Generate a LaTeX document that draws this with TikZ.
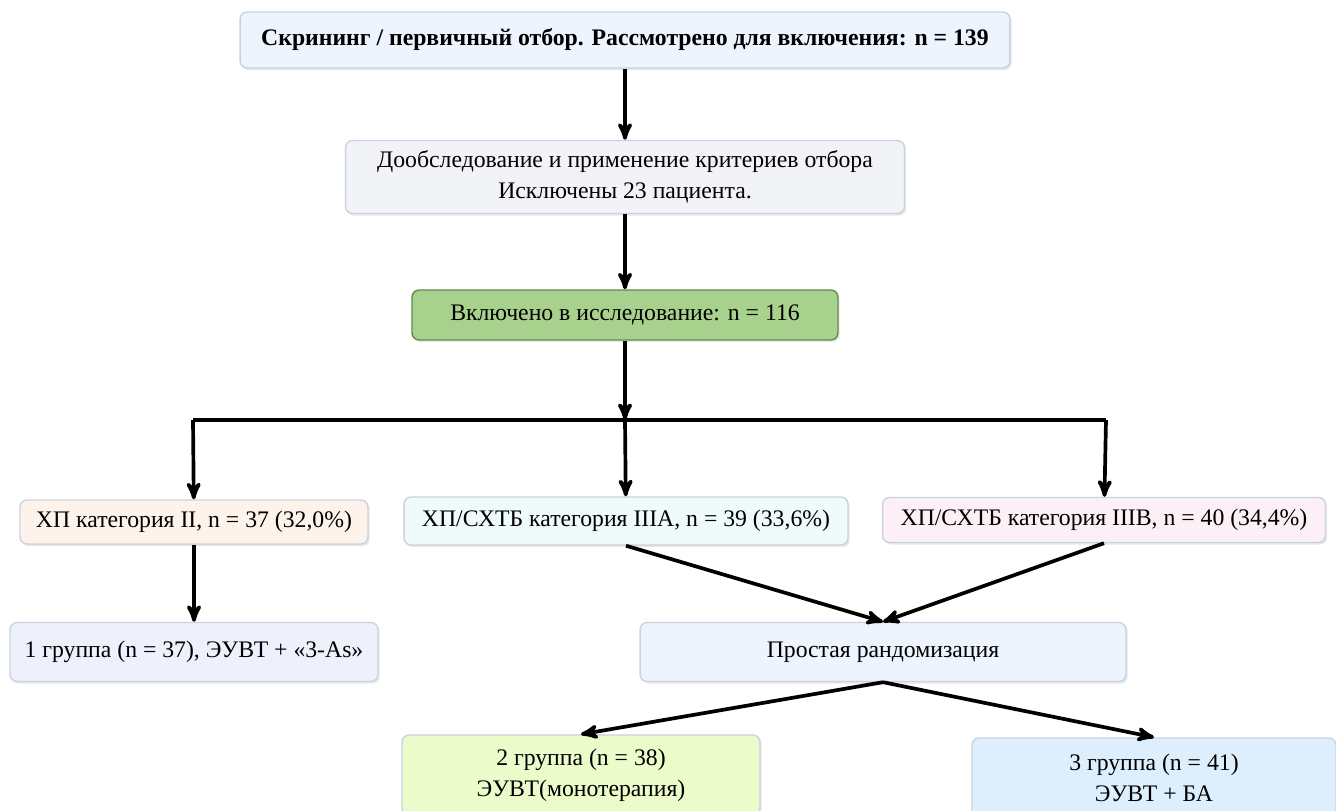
\documentclass[tikz,border=0pt]{standalone}
\usepackage{fontspec}
\setmainfont{Liberation Serif}
\usetikzlibrary{arrows,shadows}

\definecolor{boxline}{HTML}{C9D3E0}
\definecolor{scrfill}{HTML}{EEF4FD}
\definecolor{dobfill}{HTML}{F1F3F6}
\definecolor{inclfill}{HTML}{A9D18E}
\definecolor{inclline}{HTML}{5E8C46}
\definecolor{catiifill}{HTML}{FDF3EA}
\definecolor{catiiiafill}{HTML}{EEFBFA}
\definecolor{catiiibfill}{HTML}{FCEFF5}
\definecolor{grpifill}{HTML}{EEF1FB}
\definecolor{randfill}{HTML}{EEF4FD}
\definecolor{grpiifill}{HTML}{EBFBC9}
\definecolor{grpiiifill}{HTML}{DDEEFC}
\newcommand\boxfont{\fontsize{13.5}{17.6}\selectfont}

\begin{document}
\begin{tikzpicture}[x=0.02cm,y=-0.02cm,>=stealth',line width=2.1pt,
    box/.style={draw=boxline,line width=0.8pt,rounded corners=4pt,align=center,
      inner sep=0pt,font=\boxfont,
      drop shadow={shadow xshift=1pt,shadow yshift=-1.2pt,opacity=0.18}}]
      \useasboundingbox (0,0) rectangle (1336,811);

      \node[box,fill=scrfill,minimum width=15.4cm,minimum height=1.12cm,font=\boxfont\bfseries] (scr) at (625,40)
        {Скрининг / первичный отбор. Рассмотрено для включения: n = 139};
      \node[box,fill=dobfill,minimum width=11.18cm,minimum height=1.46cm] (dob) at (625,177)
        {Дообследование и применение критериев отбора\\Исключены 23 пациента.};
      \node[box,fill=inclfill,draw=inclline,minimum width=8.52cm,minimum height=1cm] (incl) at (625,315)
        {Включено в исследование: n = 116};

      \coordinate (split) at (625,420);
      \coordinate (bl) at (193,420);
      \coordinate (br) at (1106,420);

      \node[box,fill=catiifill,minimum width=6.96cm,minimum height=0.88cm] (c2) at (194,522)
        {ХП категория II, n = 37 (32,0\%)};
      \node[box,fill=catiiiafill,minimum width=8.88cm,minimum height=0.96cm] (c3a) at (626,521)
        {ХП/СХТБ категория IIIA, n = 39 (33,6\%)};
      \node[box,fill=catiiibfill,minimum width=8.86cm,minimum height=0.9cm] (c3b) at (1104,520)
        {ХП/СХТБ категория IIIB, n = 40 (34,4\%)};

      \node[box,fill=grpifill,minimum width=7.36cm,minimum height=1.18cm] (g1) at (194,652)
        {1 группа (n = 37), ЭУВТ + «3-As»};
      \node[box,fill=randfill,minimum width=9.72cm,minimum height=1.18cm] (rand) at (883,652)
        {Простая рандомизация};

      \node[box,fill=grpiifill,minimum width=7.16cm,minimum height=1.6cm] (g2) at (581,775)
        {2 группа (n = 38)\\ЭУВТ(монотерапия)};
      \node[box,fill=grpiiifill,minimum width=7.28cm,minimum height=1.6cm] (g3) at (1154,778)
        {3 группа (n = 41)\\ЭУВТ + БА};

      \draw (bl) -- (br);

      \path[->]
      (scr) edge (dob)
      (dob) edge (incl)
      (incl) edge (split)

      (split) edge (c3a)
      (bl) edge (c2)
      (br) edge (c3b)

      (c2) edge (g1)
      (c3a.south) edge (rand.north)
      (c3b.south) edge (rand.north)

      (rand.south) edge (g2.north)
      (rand.south) edge (g3.north)
      ;
    \end{tikzpicture}
\end{document}
